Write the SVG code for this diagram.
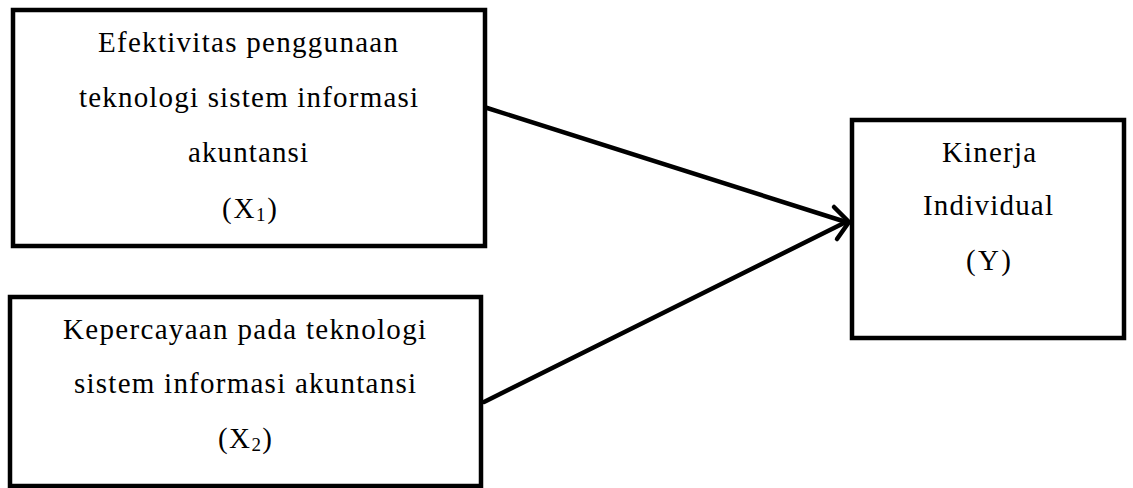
<svg xmlns="http://www.w3.org/2000/svg" width="1133" height="488" viewBox="0 0 1133 488">
<style>
.box{fill:#fff;stroke:#000;stroke-width:4.5}
.t{font-family:'Liberation Serif','Times New Roman',Times,serif;font-size:29px;fill:#000;text-anchor:middle}
.sub{font-size:19px}
.con{fill:none;stroke:#000;stroke-width:4.5;stroke-linecap:round;stroke-linejoin:round}
</style>
<rect width="1133" height="488" fill="#fff"/>
<g id="connectors">
<line class="con" x1="484" y1="107" x2="846" y2="222"/>
<line class="con" x1="484" y1="402" x2="846" y2="222"/>
<polyline class="con" points="834,207 849,222 837,239"/>
</g>
<g id="node-x1">
<rect class="box" x="13" y="10" width="472" height="236"/>
<text class="t" x="248" y="52" textLength="300" lengthAdjust="spacing">Efektivitas penggunaan</text>
<text class="t" x="248.5" y="107" textLength="339" lengthAdjust="spacing">teknologi sistem informasi</text>
<text class="t" x="248" y="162" textLength="120" lengthAdjust="spacing">akuntansi</text>
<text class="t" x="249.5" y="218" textLength="55" lengthAdjust="spacing">(X<tspan class="sub" dy="3">1</tspan><tspan dy="-3">)</tspan></text>
</g>
<g id="node-x2">
<rect class="box" x="10" y="297" width="471" height="189"/>
<text class="t" x="244.5" y="339" textLength="363" lengthAdjust="spacing">Kepercayaan pada teknologi</text>
<text class="t" x="245" y="393" textLength="342" lengthAdjust="spacing">sistem informasi akuntansi</text>
<text class="t" x="245" y="448" textLength="54" lengthAdjust="spacing">(X<tspan class="sub" dy="3">2</tspan><tspan dy="-3">)</tspan></text>
</g>
<g id="node-y">
<rect class="box" x="852" y="120" width="272" height="218"/>
<text class="t" x="989" y="162" textLength="94" lengthAdjust="spacing">Kinerja</text>
<text class="t" x="988" y="215" textLength="130" lengthAdjust="spacing">Individual</text>
<text class="t" x="988.5" y="270" textLength="45" lengthAdjust="spacing">(Y)</text>
</g>
</svg>
